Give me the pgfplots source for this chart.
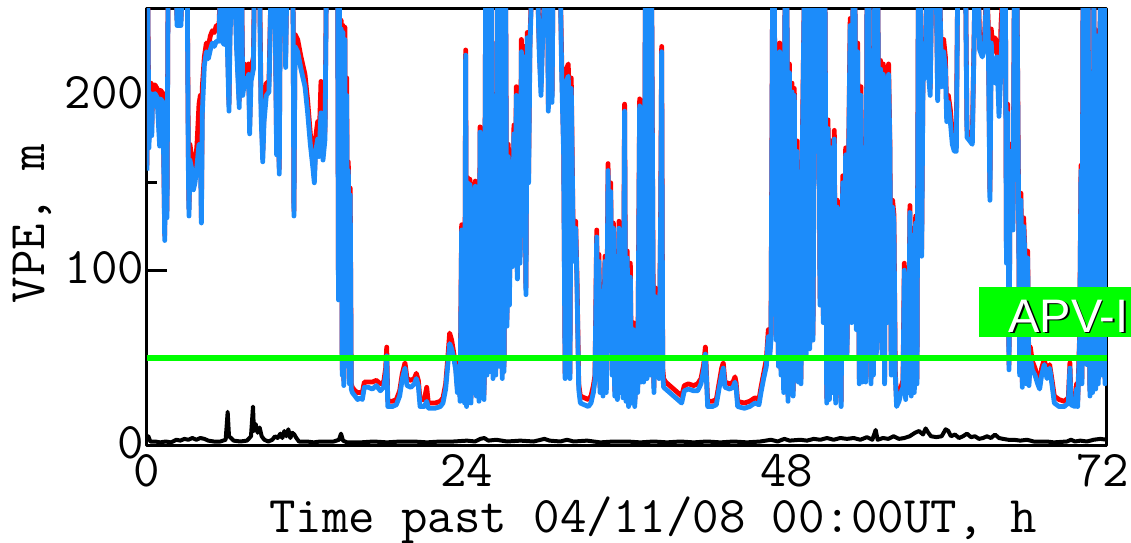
\documentclass[border=0pt]{standalone}
\usepackage{fontspec}
\usepackage{pgfplots}
\usepackage{pgfplotstable}
\pgfplotsset{compat=1.18}
\newfontfamily\arial{Liberation Sans}
\definecolor{vblue}{RGB}{28,140,250}
\definecolor{vred}{RGB}{255,0,0}
\definecolor{vgreen}{RGB}{0,255,0}

\pgfplotstableread{
t b r
0.00 157 160
0.05 262 262
0.15 170 175
0.22 199 205
0.30 201 207
0.36 177 182
0.42 200 206
0.60 201 206
0.75 199 204
0.95 171 176
1.02 198 203
1.20 196 201
1.33 117 120
1.40 188 192
1.50 130 134
1.58 262 262
2.20 262 262
2.25 240 243
2.55 240 243
2.62 262 262
3.02 262 262
3.10 160 168
3.15 131 135
3.22 163 172
3.35 158 165
3.48 146 150
3.60 150 158
3.75 160 172
3.90 172 195
4.00 170 200
4.08 127 130
4.15 190 205
4.30 217 222
4.45 225 230
4.60 221 228
4.75 226 234
4.90 230 237
5.05 228 236
5.20 231 240
5.40 231 240
5.50 262 262
5.62 231 238
5.80 229 236
5.92 262 262
6.02 231 238
6.15 191 195
6.22 232 238
6.35 262 262
6.60 262 262
6.70 230 236
6.92 193 197
6.98 262 262
7.10 262 262
7.18 200 208
7.35 210 218
7.50 205 214
7.62 212 218
7.70 178 183
7.80 208 215
7.98 215 222
8.05 262 262
8.45 262 262
8.55 190 200
8.68 162 167
8.78 185 192
8.95 200 207
9.15 202 208
9.30 262 262
9.60 262 262
9.72 166 172
9.82 200 206
9.92 155 158
10.00 262 262
10.30 262 262
10.40 216 222
10.48 262 262
10.95 262 262
11.02 131 134
11.10 228 235
11.30 225 232
11.55 215 222
11.85 205 212
12.05 190 197
12.25 172 178
12.45 158 165
12.55 150 153
12.65 168 176
12.80 175 185
12.90 165 172
13.05 190 208
13.20 163 168
13.35 175 180
13.45 262 262
14.30 262 262
14.36 83 86
14.42 262 262
14.50 120 125
14.56 238 243
14.64 40 43
14.70 236 240
14.76 34 37
14.84 232 239
14.90 45 48
14.98 200 210
15.04 50 53
15.10 157 162
15.18 35 38
15.24 143 147
15.32 32 35
15.40 30 33
15.60 28 31
15.80 26 30
16.00 27 30
16.15 26 30
16.30 33 36
16.60 33 36
16.90 32 36
17.20 34 37
17.50 31 35
17.75 33 36
17.90 40 44
17.98 51 56
18.06 22 25
18.40 22 25
18.70 23 26
18.95 28 31
19.15 38 41
19.35 44 47
19.50 34 38
19.80 33 37
20.05 35 38
20.20 38 41
20.35 34 37
20.48 22 26
20.80 22 26
20.98 25 33
21.10 21 24
21.60 21 24
22.00 22 25
22.20 24 27
22.40 32 35
22.55 45 49
22.70 58 64
22.85 55 60
23.00 50 53
23.15 43 46
23.28 30 33
23.38 45 48
23.48 25 28
23.60 123 126
23.66 26 29
23.76 68 72
23.82 24 27
23.90 223 226
23.97 22 25
24.05 150 153
24.12 26 29
24.22 149 152
24.30 24 27
24.42 146 149
24.50 30 33
24.62 148 151
24.70 28 31
24.82 130 133
24.90 25 28
24.98 179 182
25.06 40 43
25.20 83 87
25.28 26 29
25.40 262 262
25.50 40 43
25.62 262 262
25.72 42 45
25.85 262 262
25.95 38 41
26.08 181 184
26.16 40 43
26.30 262 262
26.42 45 48
26.55 262 262
26.65 38 41
26.70 235 238
26.78 42 45
26.90 262 262
27.00 68 72
27.10 165 172
27.18 80 85
27.30 160 168
27.40 102 106
27.52 178 183
27.60 110 114
27.70 200 205
27.78 95 99
27.88 195 200
27.98 104 108
28.08 225 232
28.18 120 124
28.30 222 228
28.42 86 90
28.52 233 236
28.62 150 155
28.72 226 232
28.85 262 262
29.30 262 262
29.42 224 228
29.55 200 205
29.65 226 232
29.85 262 262
30.05 262 262
30.10 191 195
30.18 262 262
30.32 262 262
30.38 196 200
30.45 262 262
31.00 262 262
31.10 213 221
31.25 166 170
31.36 38 41
31.45 208 215
31.60 211 218
31.72 38 41
31.82 204 210
31.95 124 128
32.05 105 109
32.15 124 128
32.25 92 96
32.38 32 35
32.50 24 28
32.80 23 27
33.10 22 26
33.30 24 28
33.48 30 34
33.60 37 40
33.73 119 123
33.80 50 53
33.90 105 109
33.98 30 33
34.10 88 92
34.20 28 31
34.35 105 108
34.45 30 33
34.58 157 161
34.68 60 63
34.78 145 150
34.88 40 43
34.98 124 127
35.08 28 31
35.18 88 92
35.28 26 29
35.40 124 128
35.50 30 33
35.60 110 114
35.70 27 30
35.82 191 195
35.92 25 28
36.02 107 111
36.12 22 25
36.25 96 104
36.35 24 27
36.48 66 70
36.58 22 25
36.70 40 43
36.80 30 33
36.95 194 198
37.05 36 39
37.15 160 170
37.25 36 39
37.38 262 262
37.50 38 41
37.62 262 262
37.75 40 43
37.85 262 262
37.95 100 106
38.02 30 33
38.10 85 90
38.20 45 50
38.32 62 68
38.40 38 42
38.52 125 128
38.60 225 228
38.68 40 44
38.75 33 38
38.90 32 36
39.20 30 34
39.50 28 32
39.80 26 30
40.10 24 28
40.30 31 34
40.60 32 35
41.00 31 34
41.30 31 35
41.55 35 38
41.75 43 46
41.88 52 56
41.96 38 41
42.05 22 25
42.40 22 25
42.70 23 26
42.90 32 35
43.10 40 44
43.22 44 47
43.35 33 36
43.70 32 35
43.95 33 36
44.10 36 39
44.18 33 36
44.30 22 25
44.80 21 24
45.20 22 25
45.60 24 27
45.90 23 26
46.05 30 33
46.25 38 41
46.45 45 49
46.60 62 66
46.70 50 53
46.80 60 63
46.92 262 262
47.05 262 262
47.12 160 163
47.20 60 63
47.28 120 124
47.36 45 48
47.45 225 230
47.55 40 43
47.65 220 226
47.75 30 33
47.85 262 262
48.00 262 262
48.08 25 28
48.18 213 218
48.28 140 145
48.38 202 207
48.46 28 31
48.55 200 204
48.65 45 48
48.75 168 174
48.85 36 39
48.95 136 140
49.05 35 38
49.15 168 172
49.30 262 262
49.45 52 55
49.55 262 262
49.70 55 58
49.82 262 262
49.95 60 63
50.10 262 262
50.25 168 172
50.35 262 262
50.48 80 84
50.60 262 262
50.72 70 74
50.85 262 262
50.98 24 27
51.08 181 186
51.18 26 29
51.30 170 174
51.42 30 33
51.55 175 180
51.65 24 27
51.78 136 140
51.88 30 33
51.98 88 93
52.06 22 25
52.18 150 154
52.28 52 55
52.40 166 170
52.50 50 53
52.62 160 166
52.74 240 244
52.85 70 74
52.95 262 262
53.10 262 262
53.20 66 70
53.30 225 230
53.42 35 38
53.55 200 205
53.65 36 39
53.78 170 175
53.90 36 39
54.00 262 262
54.15 262 262
54.22 170 174
54.30 35 38
54.38 211 218
54.48 40 43
54.58 262 262
54.70 50 53
54.82 262 262
54.92 60 63
55.02 215 220
55.12 51 55
55.22 212 218
55.32 35 38
55.42 210 216
55.52 70 73
55.62 212 218
55.72 168 172
55.82 40 43
55.92 136 140
56.02 127 132
56.12 40 43
56.22 22 25
56.40 25 28
56.55 30 33
56.70 33 37
56.80 100 104
56.90 26 29
57.00 95 98
57.10 30 33
57.22 133 137
57.32 28 31
57.45 120 124
57.55 30 33
57.65 127 131
57.75 35 38
57.85 262 262
58.00 262 262
58.10 108 112
58.20 208 212
58.35 212 216
58.48 262 262
58.62 211 215
58.74 200 204
58.85 262 262
59.20 262 262
59.30 197 201
59.45 262 262
59.60 205 210
59.75 225 232
59.88 215 222
59.98 185 190
60.10 196 200
60.25 185 192
60.40 172 178
60.55 168 172
60.70 168 175
60.80 262 262
61.40 262 262
61.50 176 180
61.70 174 178
61.90 172 176
62.10 262 262
62.35 262 262
62.45 226 230
62.65 222 228
62.80 226 232
62.98 262 262
63.10 233 240
63.22 140 145
63.32 230 238
63.45 210 225
63.60 207 233
63.75 222 230
63.90 188 195
64.05 215 240
64.20 262 262
64.38 262 262
64.46 104 108
64.55 190 195
64.65 43 46
64.75 168 172
64.85 150 155
64.95 123 127
65.05 262 262
65.25 262 262
65.35 157 160
65.45 40 43
65.55 140 144
65.65 33 36
65.75 125 130
65.85 107 110
65.95 35 38
66.05 107 111
66.15 34 37
66.25 50 56
66.40 43 48
66.60 40 44
66.80 35 39
66.95 32 35
67.10 40 44
67.30 46 49
67.50 38 41
67.70 44 46
67.90 33 36
68.05 24 28
68.40 22 26
68.80 22 25
69.10 24 27
69.22 44 47
69.30 23 26
69.60 22 25
69.72 32 35
69.80 22 25
69.95 60 63
70.05 157 160
70.12 35 38
70.20 262 262
70.40 262 262
70.48 46 49
70.58 262 262
70.72 28 31
70.82 120 124
70.92 30 33
71.02 262 262
71.15 32 35
71.25 234 237
71.35 35 38
71.50 262 262
71.62 40 43
71.72 262 262
71.85 35 38
71.95 262 262
}\vpe

\pgfplotstableread{
t k
0.00 4
0.10 5
0.25 2
0.60 2
1.00 1.5
1.40 2
1.80 1.5
2.20 3
2.50 2.5
2.80 3.5
3.10 3
3.40 4
3.70 3
4.00 4
4.30 3.5
4.60 2.5
5.00 2
5.50 2
5.90 3
6.05 19
6.15 5
6.30 4
6.50 2.5
7.00 2
7.50 2.5
7.80 5
7.95 22
8.02 8
8.15 12
8.30 7
8.45 10
8.60 5
8.80 3
9.10 2
9.40 3
9.60 5
9.80 4
10.00 6.5
10.15 4
10.30 8
10.45 5
10.60 9
10.75 4
10.90 7
11.05 6
11.20 4
11.40 2
12.00 2
12.50 1.5
13.00 2
13.50 2
14.00 2
14.40 3
14.55 6.5
14.70 2.5
15.00 1.5
16.00 1.5
17.00 2
18.00 1.5
19.00 2
20.00 2
21.00 1.5
22.00 2
23.00 2
24.00 2.5
24.60 2
25.00 3.5
25.30 4
25.60 2.5
26.20 3
27.00 2
28.00 2.5
29.00 2
29.80 3.5
30.20 2.5
31.00 2
31.50 3
32.00 2
33.00 2.5
34.00 1.5
35.00 2
36.00 2
37.00 1.5
38.00 2
39.00 1.5
40.00 2
41.00 1.5
42.00 2
43.00 1.5
44.00 2
45.00 1.5
46.00 2
46.80 3
47.30 2
47.80 3.5
48.20 2.5
49.00 3
49.50 2.5
50.00 3.5
50.50 3
51.00 4
51.50 3
52.00 4
52.50 3.5
53.00 4
53.50 3
54.00 4.5
54.40 3
54.65 8.6
54.80 3
55.20 4
55.60 3.5
56.00 5
56.40 3.5
56.80 4
57.20 5
57.60 7
57.90 8
58.20 6
58.40 9.5
58.60 7
58.80 5
59.20 4.5
59.60 5
59.90 9
60.10 8
60.30 5
60.60 6
60.90 4
61.20 5
61.50 6.5
61.80 4.5
62.10 5
62.40 3.5
62.70 4
63.00 5
63.30 4
63.60 6
63.90 4
64.20 3.5
64.60 3
65.00 3
65.50 2.5
66.00 3
66.50 2
67.00 2
67.50 2
68.00 1.5
69.00 2
69.30 3
69.60 2
70.00 2.5
70.50 2
71.00 3
71.50 3.5
72.00 3
}\blk

\begin{document}
\begin{tikzpicture}
\begin{axis}[
  scale only axis,
  width=480pt, height=218.5pt,
  xmin=0, xmax=72, ymin=0, ymax=250,
  xtick={0,24,48,72}, ytick={0,100,200}, minor ytick={50,150},
  xticklabels={0,24,48,\hspace*{-4pt}72},
  tick align=inside,
  major tick length=10pt, minor tick length=5pt,
  xtick style={draw=none},
  ytick style={line width=1.5pt, black},
  axis line style={line width=1.5pt, black},
  /pgf/number format/assume math mode=true,
  ticklabel style={font=\ttfamily\fontsize{25.7}{25.7}\selectfont, inner sep=0pt},
  xticklabel style={yshift=-4.5pt},
  yticklabel style={xshift=-1.3pt, yshift=1.25pt},
  xlabel={Time past 04/11/08 00:00UT, h},
  xlabel style={font=\ttfamily\fontsize{25.7}{25.7}\selectfont, at={(axis description cs:0.527,-0.2005)}, anchor=base, inner sep=0pt},
  ylabel={VPE, m},
  ylabel style={font=\ttfamily\fontsize{25.7}{25.7}\selectfont, at={(axis description cs:-0.1198,0.506)}, anchor=center, inner sep=0pt},
  clip mode=individual,
  line join=round,
]
\addplot[vred, line width=2.4pt] table[x=t, y=r] {\vpe};
\addplot[vblue, line width=2.4pt] table[x=t, y=b] {\vpe};
\addplot[black, line width=2pt] table[x=t, y=k] {\blk};
\addplot[vgreen, line width=3pt] coordinates {(0,50) (72,50)};
\fill[vgreen] (axis cs:62.4,61.7) rectangle (axis cs:73.8,90.3);
\node[anchor=base east, inner sep=0pt, text=black, font=\arial\fontsize{23.5}{23.5}\selectfont] at ([xshift=0.8pt,yshift=-0.8pt]axis cs:73.65,64.6) {APV-I};
\node[anchor=base east, inner sep=0pt, text=white, font=\arial\fontsize{23.5}{23.5}\selectfont] at (axis cs:73.65,64.6) {APV-I};
\end{axis}
\pgfresetboundingbox
\path[use as bounding box] (-73.5pt,-48.5pt) rectangle (492pt,222.5pt);
\end{tikzpicture}
\end{document}
